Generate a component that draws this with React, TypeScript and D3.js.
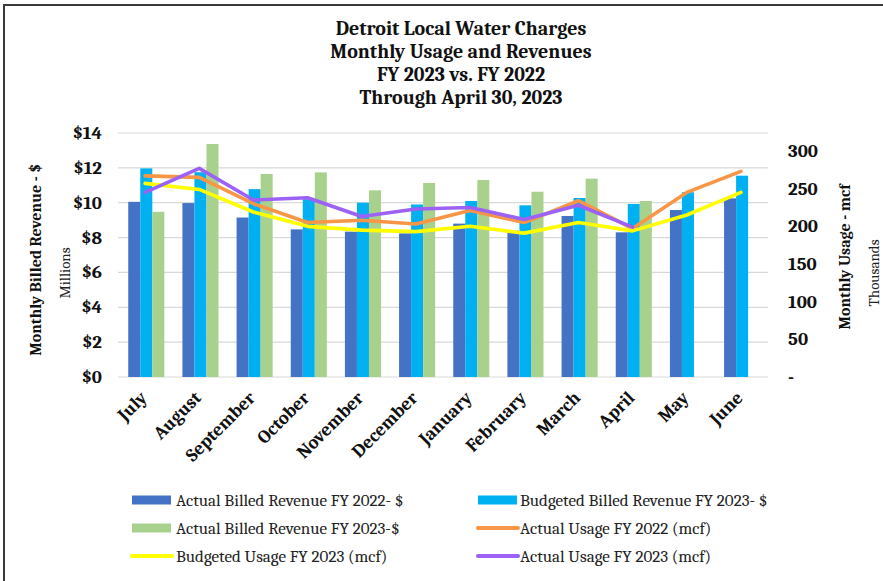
import React from "react";
import * as d3 from "d3";

const titleLines = [
  "Detroit Local Water Charges",
  "Monthly Usage and Revenues",
  "FY 2023 vs. FY 2022",
  "Through April 30, 2023",
];
const months = ["July","August","September","October","November","December","January","February","March","April","May","June"];
const actualRev2022 = [10.05, 9.98, 9.15, 8.47, 8.34, 8.24, 8.8, 8.4, 9.24, 8.3, 9.58, 10.25];
const budgetRev2023 = [11.97, 11.75, 10.78, 10.2, 10.0, 9.9, 10.1, 9.85, 10.27, 9.93, 10.6, 11.55];
const actualRev2023: (number | null)[] = [9.48, 13.37, 11.65, 11.74, 10.71, 11.13, 11.3, 10.63, 11.38, 10.1, null, null];
const actualUsage2022 = [267, 265, 230, 205, 208, 203, 221, 205, 234, 197, 245, 273];
const budgetUsage2023 = [257, 249, 219, 200, 195, 193, 200, 191, 205, 194, 215, 245];
const actualUsage2023: (number | null)[] = [245, 277, 235, 238, 213, 223, 225, 209, 228, 199, null, null];
const leftTicks = [0, 2, 4, 6, 8, 10, 12, 14];
const rightTicks = [0, 50, 100, 150, 200, 250, 300];

const barSeries = [
  { name: "Actual Billed Revenue FY 2022- $", values: actualRev2022 as (number | null)[], color: "#4472C4" },
  { name: "Budgeted Billed Revenue FY 2023- $", values: budgetRev2023 as (number | null)[], color: "#00B0F0" },
  { name: "Actual Billed Revenue FY 2023-$", values: actualRev2023, color: "#A9D18E" },
];
const lineSeries = [
  { name: "Actual Usage FY 2022 (mcf)", values: actualUsage2022 as (number | null)[], color: "#F79646" },
  { name: "Budgeted Usage FY 2023 (mcf)", values: budgetUsage2023 as (number | null)[], color: "#FFFF00" },
  { name: "Actual Usage FY 2023 (mcf)", values: actualUsage2023, color: "#9B62F5" },
];
const legendItems = [
  { ...barSeries[0], kind: "bar" },
  { ...barSeries[1], kind: "bar" },
  { ...barSeries[2], kind: "bar" },
  { ...lineSeries[0], kind: "line" },
  { ...lineSeries[1], kind: "line" },
  { ...lineSeries[2], kind: "line" },
];

const W = 883, H = 581;
const PL = 118, PR = 768, PT = 133, PB = 377;
const SERIF = "Cambria, 'Liberation Serif', 'DejaVu Serif', serif";

export default function App() {
  const x = d3.scaleBand<string>().domain(months).range([PL, PR]).padding(0);
  const yL = d3.scaleLinear().domain([0, 14]).range([PB, PT]);
  const yR = d3.scaleLinear().domain([0, 300 * (PB - PT) / 226]).range([PB, PT]);
  const bw = x.bandwidth();
  const barW = bw * 0.222;
  const cx = (m: string) => (x(m) as number) + bw / 2;

  const lineGen = d3
    .line<number | null>()
    .defined((d) => d != null)
    .x((_, i) => cx(months[i]))
    .y((d) => yR(d as number));

  return (
    <svg width={W} height={H} style={{ position: "absolute", left: 0, top: 0, background: "#fff" }} fontFamily={SERIF}>
      <rect x={0} y={0} width={W} height={H} fill="#fff" />
      <path d={`M4,${H} L4,5 L${W},5`} fill="none" stroke="#3a3a3a" strokeWidth={2} />

      {titleLines.map((t, i) => (
        <text key={t} x={461} y={35 + i * 23} textAnchor="middle" fontSize={20} fontWeight="bold" fill="#111">
          {t}
        </text>
      ))}

      {leftTicks.map((t) => (
        <line key={"g" + t} x1={PL} x2={PR} y1={yL(t)} y2={yL(t)} stroke="#d9d9d9" strokeWidth={1.2} />
      ))}

      {leftTicks.map((t) => (
        <text key={"l" + t} x={102} y={yL(t) + 6} textAnchor="end" fontSize={19} fontWeight="bold" fill="#111">
          {"$" + t}
        </text>
      ))}
      {rightTicks.map((t) => (
        <text key={"r" + t} x={788} y={yR(t) + 6} textAnchor="start" fontSize={19} fontWeight="bold" fill="#111">
          {t === 0 ? "-" : String(t)}
        </text>
      ))}

      {barSeries.map((s, si) =>
        s.values.map((v, i) =>
          v == null ? null : (
            <rect
              key={s.name + i}
              x={cx(months[i]) - 1.5 * barW + si * barW + 1.2}
              y={yL(v)}
              width={barW}
              height={yL(0) - yL(v)}
              fill={s.color}
            />
          )
        )
      )}

      {lineSeries.map((s) => (
        <path
          key={s.name}
          d={lineGen(s.values) || ""}
          fill="none"
          stroke={s.color}
          strokeWidth={3.6}
          strokeLinejoin="round"
          strokeLinecap="round"
        />
      ))}

      {months.map((m) => (
        <text
          key={m}
          transform={`translate(${cx(m) + 3},${399}) rotate(-45)`}
          textAnchor="end"
          fontSize={18.5}
          fontWeight="bold"
          fill="#111"
        >
          {m}
        </text>
      ))}

      <text transform={`translate(41,260) rotate(-90)`} textAnchor="middle" fontSize={16} fontWeight="bold" fill="#111">
        Monthly Billed Revenue - $
      </text>
      <text transform={`translate(70,273) rotate(-90)`} textAnchor="middle" fontSize={15} fill="#222">
        Millions
      </text>
      <text transform={`translate(850,257) rotate(-90)`} textAnchor="middle" fontSize={16} fontWeight="bold" fill="#111">
        Monthly Usage - mcf
      </text>
      <text transform={`translate(879,273) rotate(-90)`} textAnchor="middle" fontSize={15} fill="#222">
        Thousands
      </text>

      {legendItems.map((it, i) => {
        const col = i % 2;
        const row = Math.floor(i / 2);
        const lx = col === 0 ? 132 : 478;
        const ly = 500 + row * 28;
        return (
          <g key={it.name}>
            {it.kind === "bar" ? (
              <rect x={lx} y={ly - 4.5} width={39} height={9} fill={it.color} />
            ) : (
              <line x1={lx} x2={lx + 40} y1={ly} y2={ly} stroke={it.color} strokeWidth={4} strokeLinecap="round" />
            )}
            <text x={lx + (col === 0 ? 44 : 42)} y={ly + 6} fontSize={17} fill="#222">
              {it.name}
            </text>
          </g>
        );
      })}
    </svg>
  );
}
